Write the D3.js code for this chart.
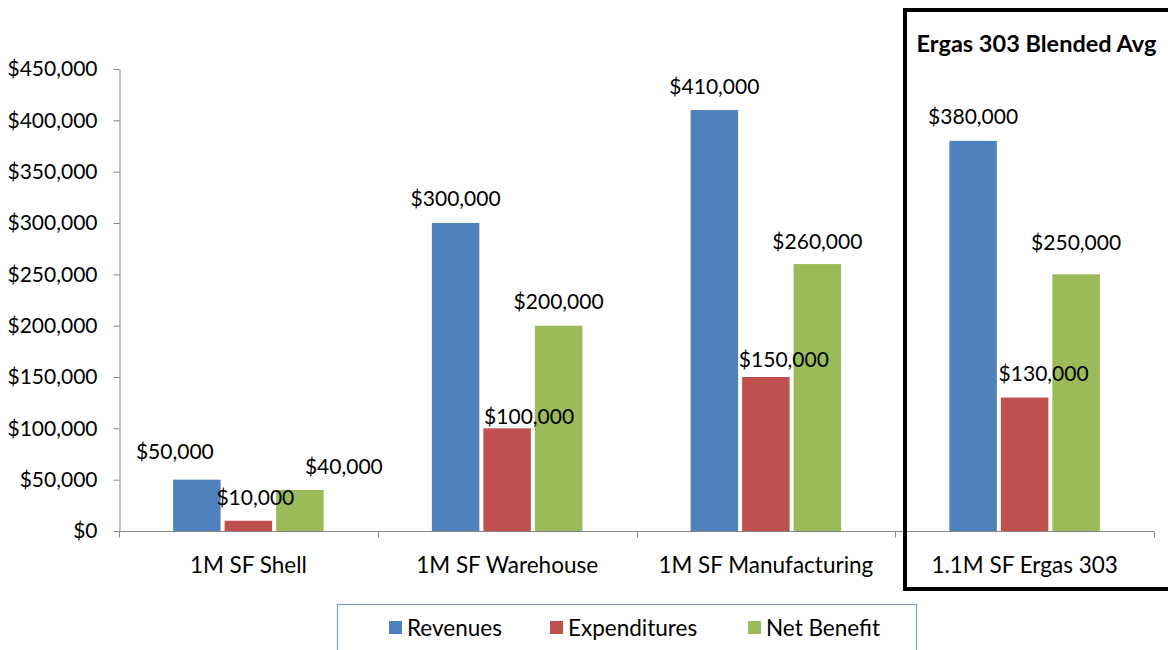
<!DOCTYPE html>
<html>
<head>
<meta charset="utf-8">
<script src="https://cdn.jsdelivr.net/npm/d3@7"></script>
<style>
  html, body { margin: 0; padding: 0; background: #fff; }
  svg { display: block; }
  text { font-family: Lato, "Open Sans", sans-serif; fill: #000; }
</style>
</head>
<body>
<svg id="chart" width="1168" height="650"></svg>
<script>
// ---- data ----
const categories = ["1M SF Shell", "1M SF Warehouse", "1M SF Manufacturing", "1.1M SF Ergas 303"];
const seriesNames = ["Revenues", "Expenditures", "Net Benefit"];
const revenues = [50000, 300000, 410000, 380000];
const expenditures = [10000, 100000, 150000, 130000];
const netBenefit = [40000, 200000, 260000, 250000];
const yTickValues = [0, 50000, 100000, 150000, 200000, 250000, 300000, 350000, 400000, 450000];
const highlightTitle = "Ergas 303 Blended Avg";

// ---- layout / style (kept separate from the data) ----
const colors = ["#4f81bd", "#c0504d", "#9bbb59"];
// manual label nudges [dx, dy-above-bar] per series, per category
const labelDx = [[-22, 0, 0, 0], [7, 22, 18, 19], [44, 0, 0, 0]];
const labelRise = [[28, 24, 23, 24], [23, 12, 17, 24], [23, 24, 22, 32]];

const seriesValues = [revenues, expenditures, netBenefit];
const svg = d3.select("#chart");
const numSize = 21;
const txtSize = 22.5;

const x0 = d3.scaleBand().domain(categories).range([119, 1154]).padding(0);
const x1 = d3.scaleBand().domain(seriesNames).range([-75.25, 75.25]).paddingInner(0.078).paddingOuter(0);
const y = d3.scaleLinear().domain([0, 450000]).range([531, 69]);
const fmt = v => "$" + d3.format(",")(v);

// y axis
const yAxis = svg.append("g").attr("transform", "translate(119.5,0)")
  .call(d3.axisLeft(y).tickValues(yTickValues).tickFormat(fmt).tickSize(6).tickSizeOuter(0).tickPadding(16));
yAxis.select(".domain").attr("stroke", "#868686");
yAxis.selectAll(".tick line").attr("stroke", "#868686");
yAxis.selectAll(".tick text").attr("font-size", numSize).attr("font-family", "Lato, sans-serif").attr("fill", "#000");

// bars
const groups = svg.append("g").selectAll("g").data(categories).join("g")
  .attr("transform", d => `translate(${x0(d) + x0.bandwidth() / 2},0)`);

groups.each(function(cat, ci) {
  const g = d3.select(this);
  seriesNames.forEach((s, si) => {
    const v = seriesValues[si][ci];
    g.append("rect")
      .attr("x", x1(s))
      .attr("y", y(v))
      .attr("width", x1.bandwidth())
      .attr("height", y(0) - y(v))
      .attr("fill", colors[si]);
  });
});

// x axis
const xAxisG = svg.append("g").attr("transform", "translate(0,531.5)");
xAxisG.append("line").attr("x1", 119).attr("x2", 1154).attr("stroke", "#868686");
const boundaries = categories.map(c => x0(c)).concat([x0(categories[categories.length - 1]) + x0.bandwidth()]);
xAxisG.selectAll("line.tk").data(boundaries).join("line").attr("class", "tk")
  .attr("x1", d => Math.round(d) + 0.5).attr("x2", d => Math.round(d) + 0.5)
  .attr("y1", 0).attr("y2", 6).attr("stroke", "#868686");
xAxisG.selectAll("text").data(categories).join("text")
  .attr("x", d => x0(d) + x0.bandwidth() / 2)
  .attr("y", 34)
  .attr("dy", "0.35em")
  .attr("text-anchor", "middle")
  .attr("font-size", txtSize)
  .text(d => d);

// value labels
const lab = svg.append("g");
categories.forEach((cat, ci) => {
  seriesNames.forEach((s, si) => {
    const v = seriesValues[si][ci];
    const cx = x0(cat) + x0.bandwidth() / 2 + x1(s) + x1.bandwidth() / 2 + labelDx[si][ci];
    lab.append("text")
      .attr("x", cx)
      .attr("y", y(v) - labelRise[si][ci])
      .attr("dy", "0.35em")
      .attr("text-anchor", "middle")
      .attr("font-size", numSize)
      .text(fmt(v));
  });
});

// highlight box
svg.append("rect").attr("x", 905).attr("y", 10).attr("width", 280).attr("height", 579)
  .attr("fill", "none").attr("stroke", "#000").attr("stroke-width", 4);
svg.append("text").attr("x", 1036.5).attr("y", 44).attr("dy", "0.35em").attr("text-anchor", "middle")
  .attr("font-size", 23.5).attr("font-weight", "bold").text(highlightTitle);

// legend
const leg = svg.append("g");
leg.append("rect").attr("x", 337.5).attr("y", 604.5).attr("width", 579).attr("height", 60)
  .attr("fill", "#fff").attr("stroke", "#7f9fcf").attr("stroke-width", 1.2);
const legX = [389, 550, 748];
seriesNames.forEach((s, i) => {
  leg.append("rect").attr("x", legX[i]).attr("y", 621).attr("width", 13).attr("height", 13).attr("fill", colors[i]);
  leg.append("text").attr("x", legX[i] + 18).attr("y", 628).attr("dy", "0.35em")
    .attr("font-size", txtSize).text(s);
});
</script>
</body>
</html>
